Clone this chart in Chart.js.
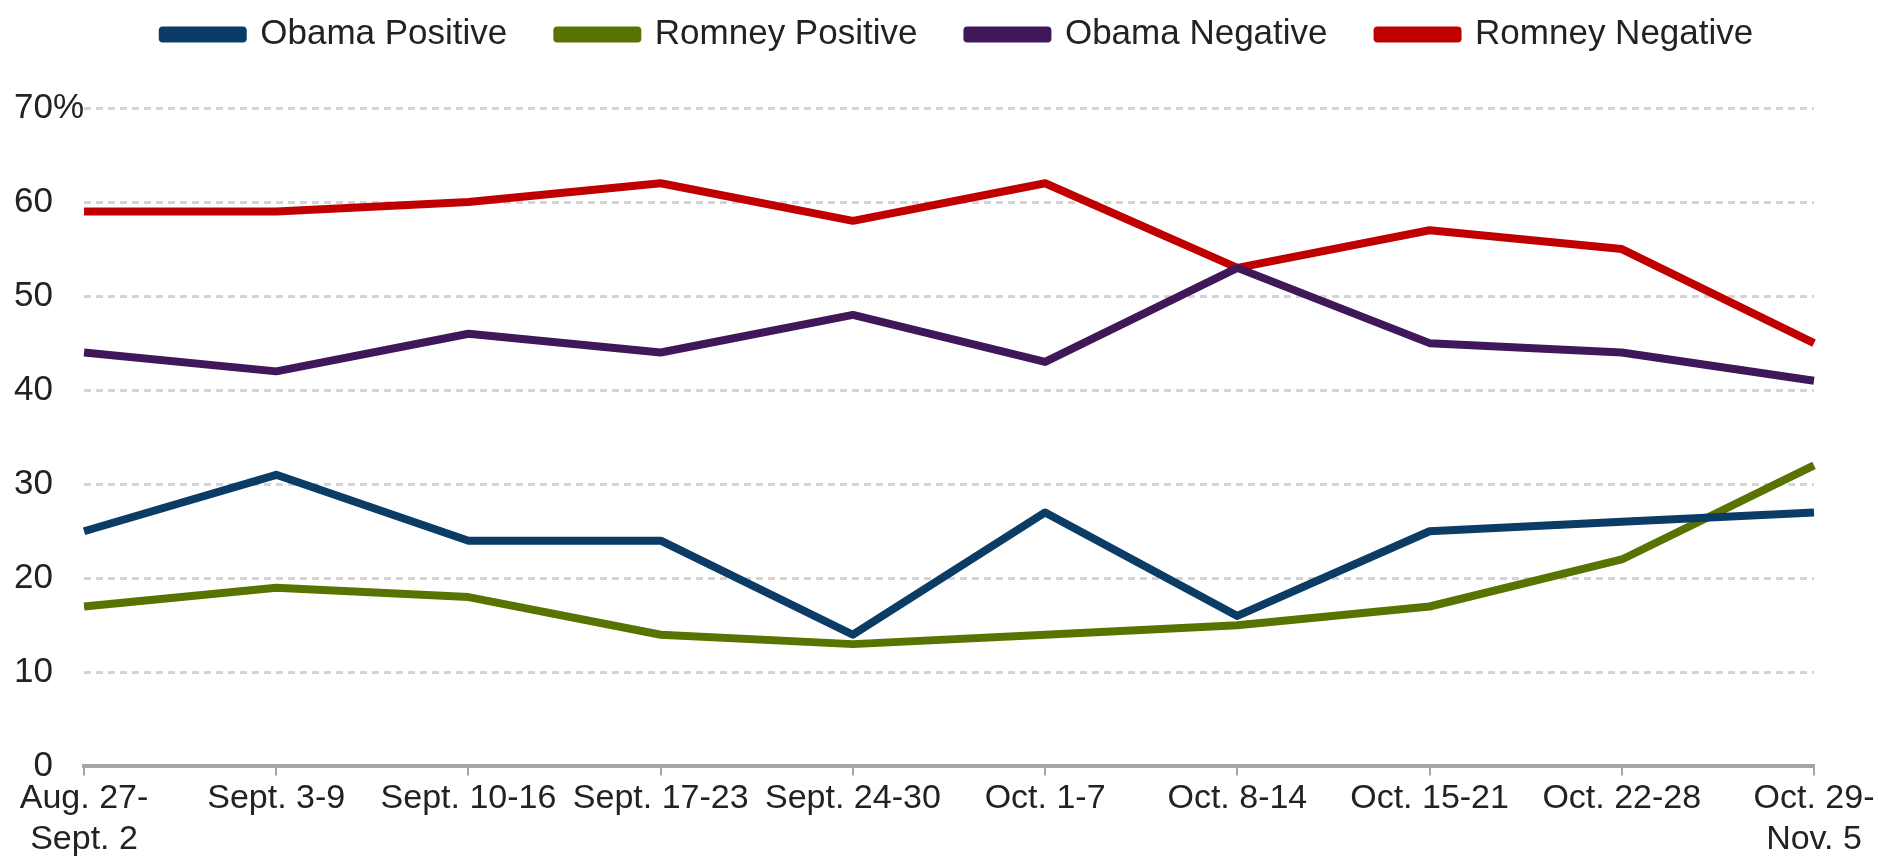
<!DOCTYPE html>
<html>
<head>
<meta charset="utf-8">
<script src="https://cdn.jsdelivr.net/npm/chart.js@4"></script>
<style>
    body { margin: 0; background: #fff; }
    #wrap { width: 1878px; height: 863px; }
</style>
</head>
<body>
<div id="wrap"><canvas id="chart1"></canvas></div>
<script>
const weeks = [
    ['Aug. 27-', 'Sept. 2'],
    'Sept. 3-9',
    'Sept. 10-16',
    'Sept. 17-23',
    'Sept. 24-30',
    'Oct. 1-7',
    'Oct. 8-14',
    'Oct. 15-21',
    'Oct. 22-28',
    ['Oct. 29-', 'Nov. 5']
];

const obamaPositive = [25, 31, 24, 24, 14, 27, 16, 25, 26, 27];
const romneyPositive = [17, 19, 18, 14, 13, 14, 15, 17, 22, 32];
const obamaNegative = [44, 42, 46, 44, 48, 43, 53, 45, 44, 41];
const romneyNegative = [59, 59, 60, 62, 58, 62, 53, 57, 55, 45];

const yTicks = [0, 10, 20, 30, 40, 50, 60, 70];

function series(label, data, color) {
    return {
        label: label,
        data: data,
        borderColor: color,
        backgroundColor: color,
        borderWidth: 8,
        pointRadius: 0,
        tension: 0,
        borderJoinStyle: 'round'
    };
}

const family = "'Liberation Sans', Arial, sans-serif";

// legend sits higher and a bit to the right, with more room under it
const legendTweak = {
    id: 'legendTweak',
    beforeInit(chart) {
        const fit = chart.legend.fit;
        chart.legend.fit = function () {
            fit.call(this);
            this.height += 46;
        };
    },
    afterLayout(chart) {
        chart.legend.left += 44;
        chart.legend.right += 44;
    }
};

new Chart(document.getElementById('chart1').getContext('2d'), {
    type: 'line',
    data: {
        labels: weeks,
        datasets: [
            series('Obama Positive', obamaPositive, '#0b3c66'),
            series('Romney Positive', romneyPositive, '#587300'),
            series('Obama Negative', obamaNegative, '#40185a'),
            series('Romney Negative', romneyNegative, '#c00000')
        ]
    },
    plugins: [legendTweak],
    options: {
        responsive: true,
        maintainAspectRatio: false,
        animation: false,
        layout: {
            padding: { left: 14, right: 64, top: -33, bottom: 0 }
        },
        plugins: {
            legend: {
                position: 'top',
                labels: {
                    font: { family: family, size: 35 },
                    color: '#222',
                    boxWidth: 80,
                    boxHeight: 8,
                    padding: 50
                }
            },
            tooltip: { enabled: false }
        },
        scales: {
            x: {
                grid: {
                    drawOnChartArea: false,
                    drawTicks: true,
                    tickLength: 9,
                    color: '#a6a6a6',
                    lineWidth: 2
                },
                border: { display: true, color: '#a6a6a6', width: 4 },
                ticks: {
                    font: { family: family, size: 34 },
                    color: '#222',
                    maxRotation: 0,
                    autoSkip: false,
                    padding: 3
                }
            },
            y: {
                min: 0,
                max: 70,
                afterBuildTicks: axis => {
                    axis.ticks = yTicks.map(v => ({ value: v }));
                },
                grid: {
                    drawTicks: false,
                    color: '#d4d4d4',
                    lineWidth: 3
                },
                border: { display: false, dash: [7, 5] },
                ticks: {
                    font: { family: family, size: 35 },
                    color: '#222',
                    crossAlign: 'far',
                    padding: 0,
                    callback: function (value) {
                        if (value === 70) return '70%';
                        if (value === 0) return '\u2007' + value;
                        return value;
                    }
                }
            }
        }
    }
});
</script>
</body>
</html>
